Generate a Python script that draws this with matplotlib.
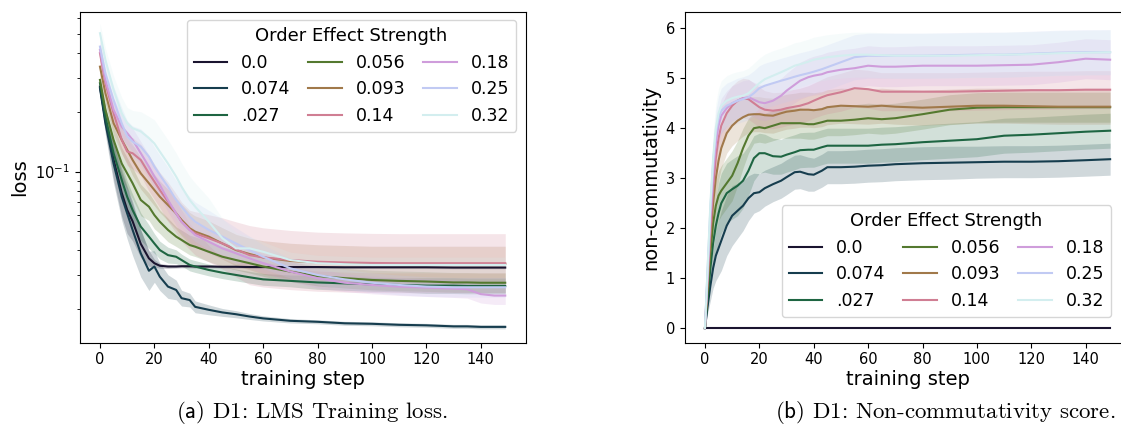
import numpy as np
import matplotlib
matplotlib.use("Agg")
import matplotlib.pyplot as plt

plt.rcParams["mathtext.fontset"] = "cm"

# ---------------- data ----------------
labels = ["0.0", "0.074", ".027", "0.056", "0.093", "0.14", "0.18", "0.25", "0.32"]
legend_title = "Order Effect Strength"

steps_loss = [0, 2, 5, 8, 10, 12, 15, 18, 20, 22, 25, 28, 30, 33, 35, 40, 45, 50, 55, 60,
              70, 80, 90, 100, 110, 120, 130, 135, 140, 145, 149]

loss_00 = [0.270, 0.183, 0.115, 0.078, 0.064, 0.056, 0.043, 0.0363, 0.0343, 0.0333, 0.0330, 0.0330, 0.0331, 0.0331, 0.0330, 0.0330, 0.0329, 0.0329, 0.0328, 0.0328,
           0.0328, 0.0328, 0.0327, 0.0327, 0.0327, 0.0327, 0.0326, 0.0326, 0.0326, 0.0326, 0.0326]
loss_074 = [0.265, 0.176, 0.110, 0.0746, 0.0614, 0.0506, 0.0385, 0.0314, 0.0330, 0.0293, 0.0261, 0.0251, 0.0228, 0.0223, 0.0206, 0.0199, 0.0193, 0.0189, 0.0184, 0.0180,
            0.0175, 0.0173, 0.0170, 0.0169, 0.0167, 0.0166, 0.0164, 0.0164, 0.0163, 0.0163, 0.0163]
loss_027 = [0.281, 0.190, 0.124, 0.0907, 0.0746, 0.0638, 0.0526, 0.0468, 0.0432, 0.0400, 0.0377, 0.0370, 0.0356, 0.0336, 0.0330, 0.0317, 0.0307, 0.0299, 0.0291, 0.0284,
            0.0279, 0.0274, 0.0271, 0.0268, 0.0266, 0.0264, 0.0264, 0.0263, 0.0263, 0.0263, 0.0263]
loss_056 = [0.292, 0.206, 0.145, 0.110, 0.098, 0.0873, 0.0718, 0.0664, 0.0602, 0.0557, 0.0506, 0.0468, 0.0450, 0.0424, 0.0416, 0.0392, 0.0370, 0.0356, 0.0343, 0.0330,
            0.0311, 0.0295, 0.0288, 0.0282, 0.0279, 0.0277, 0.0274, 0.0274, 0.0273, 0.0273, 0.0273]
loss_093 = [0.341, 0.250, 0.176, 0.145, 0.129, 0.1146, 0.098, 0.0873, 0.0807, 0.0746, 0.0677, 0.0614, 0.0569, 0.0516, 0.0496, 0.0468, 0.0432, 0.0400, 0.0382, 0.0367,
            0.0352, 0.0346, 0.0343, 0.0340, 0.0340, 0.0340, 0.0340, 0.0340, 0.0340, 0.0340, 0.0340]
loss_14 = [0.399, 0.281, 0.198, 0.145, 0.1264, 0.124, 0.1146, 0.098, 0.0890, 0.0807, 0.0704, 0.0614, 0.0557, 0.0506, 0.0486, 0.0459, 0.0432, 0.0403, 0.0377, 0.0367,
           0.0356, 0.0349, 0.0346, 0.0344, 0.0343, 0.0343, 0.0343, 0.0343, 0.0343, 0.0343, 0.0343]
loss_18 = [0.415, 0.292, 0.206, 0.169, 0.157, 0.145, 0.124, 0.106, 0.0944, 0.0856, 0.0718, 0.0614, 0.0557, 0.0506, 0.0477, 0.0441, 0.0408, 0.0385, 0.0363, 0.0343,
           0.0311, 0.0288, 0.0273, 0.0266, 0.0261, 0.0258, 0.0255, 0.0253, 0.0239, 0.0235, 0.0235]
loss_25 = [0.431, 0.315, 0.231, 0.176, 0.151, 0.142, 0.134, 0.119, 0.106, 0.0962, 0.0839, 0.0718, 0.0664, 0.0591, 0.0557, 0.0506, 0.0468, 0.0432, 0.0400, 0.0370,
           0.0323, 0.0299, 0.0284, 0.0273, 0.0266, 0.0261, 0.0259, 0.0259, 0.0259, 0.0259, 0.0259]
loss_32 = [0.504, 0.369, 0.260, 0.198, 0.176, 0.166, 0.160, 0.148, 0.139, 0.1264, 0.110, 0.0944, 0.0839, 0.0718, 0.0664, 0.0557, 0.0459, 0.0408, 0.0408, 0.0392,
           0.0356, 0.0343, 0.0339, 0.0336, 0.0336, 0.0336, 0.0336, 0.0336, 0.0336, 0.0336, 0.0336]

# band half-widths for the loss curves (log10 units)
band_loss_00 = [0.03, 0.06, 0.10, 0.12, 0.12, 0.10, 0.07, 0.04, 0.02, 0.012, 0.01, 0.008, 0.008, 0.008, 0.008, 0.007, 0.007, 0.007, 0.006, 0.006,
                0.006, 0.006, 0.006, 0.006, 0.006, 0.006, 0.006, 0.006, 0.006, 0.006, 0.006]
band_loss_074 = [0.03, 0.06, 0.10, 0.12, 0.13, 0.13, 0.12, 0.10, 0.08, 0.07, 0.06, 0.05, 0.04, 0.035, 0.03, 0.025, 0.02, 0.018, 0.015, 0.013,
                 0.011, 0.01, 0.01, 0.01, 0.01, 0.01, 0.01, 0.01, 0.01, 0.01, 0.01]
band_loss_027 = [0.03, 0.05, 0.07, 0.08, 0.08, 0.08, 0.07, 0.06, 0.05, 0.045, 0.04, 0.035, 0.03, 0.03, 0.03, 0.03, 0.03, 0.03, 0.03, 0.03,
                 0.03, 0.035, 0.035, 0.035, 0.035, 0.04, 0.04, 0.04, 0.04, 0.04, 0.04]
band_loss_056 = [0.03, 0.05, 0.07, 0.08, 0.08, 0.08, 0.08, 0.07, 0.07, 0.06, 0.06, 0.05, 0.05, 0.05, 0.05, 0.05, 0.05, 0.05, 0.05, 0.05,
                 0.05, 0.05, 0.05, 0.05, 0.05, 0.05, 0.05, 0.05, 0.05, 0.05, 0.05]
band_loss_093 = [0.04, 0.05, 0.06, 0.07, 0.07, 0.08, 0.08, 0.08, 0.08, 0.08, 0.08, 0.08, 0.08, 0.08, 0.08, 0.08, 0.08, 0.08, 0.08, 0.085,
                 0.09, 0.09, 0.09, 0.09, 0.09, 0.09, 0.09, 0.09, 0.09, 0.09, 0.09]
band_loss_14 = [0.04, 0.05, 0.06, 0.07, 0.07, 0.08, 0.08, 0.09, 0.09, 0.09, 0.10, 0.10, 0.10, 0.10, 0.11, 0.12, 0.13, 0.14, 0.15, 0.15,
                0.15, 0.15, 0.15, 0.15, 0.15, 0.15, 0.15, 0.15, 0.15, 0.15, 0.15]
band_loss_18 = [0.04, 0.05, 0.06, 0.06, 0.06, 0.06, 0.06, 0.06, 0.06, 0.06, 0.06, 0.06, 0.06, 0.06, 0.06, 0.06, 0.05, 0.05, 0.05, 0.05,
                0.05, 0.05, 0.045, 0.045, 0.045, 0.045, 0.045, 0.045, 0.045, 0.045, 0.045]
band_loss_25 = [0.05, 0.06, 0.07, 0.08, 0.08, 0.08, 0.09, 0.10, 0.10, 0.10, 0.10, 0.10, 0.10, 0.10, 0.10, 0.10, 0.09, 0.08, 0.07, 0.06,
                0.05, 0.05, 0.05, 0.05, 0.05, 0.05, 0.05, 0.05, 0.05, 0.05, 0.05]
band_loss_32 = [0.05, 0.06, 0.07, 0.08, 0.08, 0.09, 0.10, 0.11, 0.12, 0.12, 0.12, 0.12, 0.12, 0.12, 0.12, 0.12, 0.10, 0.08, 0.06, 0.05,
                0.04, 0.04, 0.04, 0.04, 0.04, 0.04, 0.04, 0.04, 0.04, 0.04, 0.04]

steps_nc = [0, 1, 2, 3, 4, 5, 6, 8, 10, 12, 14, 16, 18, 20, 22, 25, 28, 30, 33, 35,
            38, 40, 43, 45, 50, 55, 60, 65, 70, 80, 90, 100, 110, 120, 130, 140, 149]

nc_00 = [0.0] * 37
nc_074 = [0, 0.45, 0.85, 1.2, 1.45, 1.6, 1.75, 2.05, 2.25, 2.35, 2.45, 2.6, 2.7, 2.72, 2.8, 2.88, 2.95, 3.02, 3.12, 3.13,
          3.08, 3.07, 3.15, 3.22, 3.22, 3.23, 3.25, 3.26, 3.28, 3.30, 3.31, 3.32, 3.33, 3.33, 3.34, 3.36, 3.38]
nc_027 = [0, 0.6, 1.2, 1.7, 2.05, 2.3, 2.5, 2.7, 2.78, 2.85, 2.95, 3.15, 3.4, 3.5, 3.5, 3.44, 3.43, 3.47, 3.52, 3.56,
          3.57, 3.57, 3.62, 3.65, 3.65, 3.65, 3.65, 3.67, 3.68, 3.72, 3.75, 3.78, 3.85, 3.87, 3.9, 3.93, 3.95]
nc_056 = [0, 0.8, 1.5, 2.1, 2.45, 2.65, 2.75, 2.9, 3.05, 3.3, 3.6, 3.85, 4.0, 4.02, 4.0, 4.05, 4.1, 4.1, 4.1, 4.1,
          4.08, 4.08, 4.12, 4.15, 4.15, 4.17, 4.2, 4.18, 4.2, 4.28, 4.37, 4.41, 4.42, 4.42, 4.42, 4.42, 4.42]
nc_093 = [0, 0.9, 1.8, 2.5, 3.0, 3.35, 3.6, 3.9, 4.05, 4.15, 4.22, 4.27, 4.28, 4.28, 4.26, 4.25, 4.3, 4.33, 4.35, 4.37,
          4.37, 4.36, 4.38, 4.42, 4.45, 4.44, 4.43, 4.45, 4.43, 4.41, 4.43, 4.45, 4.45, 4.44, 4.43, 4.43, 4.43]
nc_14 = [0, 1.0, 2.0, 2.8, 3.4, 3.8, 4.05, 4.3, 4.45, 4.55, 4.6, 4.58, 4.5, 4.42, 4.37, 4.35, 4.37, 4.4, 4.43, 4.45,
         4.5, 4.55, 4.62, 4.66, 4.72, 4.8, 4.78, 4.73, 4.73, 4.73, 4.73, 4.74, 4.75, 4.76, 4.76, 4.77, 4.77]
nc_18 = [0, 1.1, 2.2, 3.1, 3.7, 4.05, 4.25, 4.4, 4.5, 4.55, 4.6, 4.62, 4.57, 4.52, 4.5, 4.55, 4.65, 4.75, 4.87, 4.95,
         5.02, 5.05, 5.08, 5.12, 5.17, 5.2, 5.25, 5.23, 5.23, 5.25, 5.25, 5.25, 5.26, 5.27, 5.32, 5.39, 5.37]
nc_25 = [0, 1.2, 2.4, 3.3, 3.9, 4.2, 4.35, 4.45, 4.5, 4.55, 4.58, 4.62, 4.7, 4.8, 4.85, 4.9, 4.95, 4.98, 5.03, 5.06,
         5.1, 5.13, 5.18, 5.22, 5.32, 5.42, 5.45, 5.45, 5.45, 5.45, 5.46, 5.47, 5.47, 5.49, 5.51, 5.52, 5.52]
nc_32 = [0, 1.25, 2.5, 3.4, 4.0, 4.3, 4.45, 4.55, 4.6, 4.63, 4.65, 4.7, 4.8, 4.9, 4.98, 5.05, 5.12, 5.17, 5.25, 5.28,
         5.33, 5.37, 5.4, 5.42, 5.45, 5.47, 5.47, 5.46, 5.45, 5.45, 5.45, 5.46, 5.47, 5.48, 5.5, 5.51, 5.52]

# band half-widths for the non-commutativity curves
band_nc_00 = [0.0] * 37
band_nc_074 = [0, 0.15, 0.3, 0.4, 0.5, 0.55, 0.6, 0.6, 0.6, 0.55, 0.5, 0.45, 0.4, 0.37, 0.36, 0.35, 0.35, 0.35, 0.34, 0.34,
               0.34, 0.33, 0.33, 0.33, 0.33, 0.33, 0.33, 0.33, 0.33, 0.33, 0.33, 0.32, 0.32, 0.32, 0.32, 0.32, 0.32]
band_nc_027 = [0, 0.15, 0.3, 0.45, 0.55, 0.6, 0.6, 0.6, 0.6, 0.6, 0.55, 0.5, 0.45, 0.4, 0.38, 0.36, 0.35, 0.35, 0.35, 0.35,
               0.35, 0.35, 0.35, 0.35, 0.35, 0.35, 0.35, 0.35, 0.35, 0.35, 0.35, 0.35, 0.35, 0.35, 0.35, 0.35, 0.35]
band_nc_056 = [0, 0.15, 0.3, 0.4, 0.5, 0.5, 0.5, 0.5, 0.5, 0.45, 0.4, 0.35, 0.3, 0.3, 0.3, 0.3, 0.3, 0.3, 0.3, 0.3,
               0.3, 0.3, 0.3, 0.3, 0.3, 0.3, 0.3, 0.3, 0.3, 0.3, 0.3, 0.3, 0.3, 0.3, 0.3, 0.3, 0.3]
band_nc_093 = [0, 0.15, 0.3, 0.4, 0.4, 0.4, 0.4, 0.4, 0.4, 0.4, 0.38, 0.36, 0.35, 0.35, 0.35, 0.35, 0.35, 0.35, 0.35, 0.35,
               0.35, 0.35, 0.35, 0.35, 0.35, 0.35, 0.35, 0.35, 0.35, 0.35, 0.35, 0.35, 0.35, 0.35, 0.35, 0.35, 0.35]
band_nc_14 = [0, 0.15, 0.3, 0.4, 0.4, 0.4, 0.4, 0.4, 0.4, 0.4, 0.4, 0.4, 0.4, 0.4, 0.38, 0.36, 0.35, 0.35, 0.35, 0.35,
              0.35, 0.35, 0.36, 0.37, 0.38, 0.38, 0.38, 0.38, 0.38, 0.38, 0.38, 0.38, 0.38, 0.38, 0.38, 0.38, 0.38]
band_nc_18 = [0, 0.15, 0.3, 0.35, 0.35, 0.35, 0.35, 0.35, 0.35, 0.35, 0.35, 0.35, 0.35, 0.35, 0.35, 0.35, 0.35, 0.35, 0.36, 0.37,
              0.38, 0.39, 0.4, 0.4, 0.4, 0.4, 0.4, 0.4, 0.4, 0.4, 0.4, 0.4, 0.4, 0.4, 0.4, 0.4, 0.4]
band_nc_25 = [0, 0.2, 0.35, 0.45, 0.45, 0.45, 0.45, 0.45, 0.45, 0.45, 0.45, 0.45, 0.45, 0.45, 0.45, 0.45, 0.45, 0.45, 0.45, 0.45,
              0.45, 0.45, 0.45, 0.45, 0.45, 0.45, 0.45, 0.45, 0.45, 0.45, 0.45, 0.45, 0.45, 0.45, 0.45, 0.45, 0.45]
band_nc_32 = [0, 0.2, 0.35, 0.5, 0.5, 0.5, 0.5, 0.5, 0.5, 0.5, 0.5, 0.5, 0.5, 0.5, 0.5, 0.5, 0.48, 0.47, 0.46, 0.45,
              0.45, 0.45, 0.45, 0.45, 0.45, 0.45, 0.45, 0.45, 0.45, 0.45, 0.45, 0.45, 0.45, 0.45, 0.45, 0.45, 0.45]

loss_series = [loss_00, loss_074, loss_027, loss_056, loss_093, loss_14, loss_18, loss_25, loss_32]
loss_bands = [band_loss_00, band_loss_074, band_loss_027, band_loss_056, band_loss_093,
              band_loss_14, band_loss_18, band_loss_25, band_loss_32]
nc_series = [nc_00, nc_074, nc_027, nc_056, nc_093, nc_14, nc_18, nc_25, nc_32]
nc_bands = [band_nc_00, band_nc_074, band_nc_027, band_nc_056, band_nc_093,
            band_nc_14, band_nc_18, band_nc_25, band_nc_32]

caption_tags = ["(a)", "(b)"]
captions = ["D1: LMS Training loss.", "D1: Non-commutativity score."]

# ---------------- figure ----------------
W, H = 1121, 432
fig = plt.figure(figsize=(W / 100, H / 100), dpi=100)
colors = plt.get_cmap("cubehelix")(np.linspace(0, 1, len(labels) + 2)[1:-1])

axL = fig.add_axes([79.7 / W, 1 - 342.7 / H, (525.5 - 79.7) / W, (342.7 - 11.7) / H])
axR = fig.add_axes([684.7 / W, 1 - 342.7 / H, (1130.4 - 684.7) / W, (342.7 - 11.7) / H])

leg_kw = dict(title=legend_title, ncol=3, fontsize=12.5, title_fontsize=13,
              bbox_transform=fig.transFigure, borderaxespad=0,
              columnspacing=1.0, handlelength=1.95)

xs_l = np.array(steps_loss)
for lab, m, b, c in zip(labels, loss_series, loss_bands, colors):
    m = np.array(m)
    f = 10 ** np.array(b)
    axL.plot(xs_l, m, color=c, lw=1.5, label=lab)
    axL.fill_between(xs_l, m / f, m * f, color=c, alpha=0.2, lw=0)

axL.set_yscale("log")
axL.set_ylim(0.01355, 0.648)
axL.set_xlim(-7.45, 156.45)
axL.set_xticks(range(0, 141, 20))
axL.tick_params(labelsize=10.5)
axL.set_xlabel("training step", fontsize=14, labelpad=2)
axL.set_ylabel("loss", fontsize=14)
axL.legend(loc="upper right", bbox_to_anchor=(516 / W, 1 - 20 / H), **leg_kw)

xs_n = np.array(steps_nc)
for lab, m, b, c in zip(labels, nc_series, nc_bands, colors):
    m = np.array(m)
    b = np.array(b)
    axR.plot(xs_n, m, color=c, lw=1.5, label=lab)
    axR.fill_between(xs_n, m - b, m + b, color=c, alpha=0.2, lw=0)

axR.set_ylim(-0.29, 6.33)
axR.set_xlim(-7.45, 156.45)
axR.set_xticks(range(0, 141, 20))
axR.set_yticks(range(0, 7))
axR.tick_params(labelsize=10.5)
axR.set_xlabel("training step", fontsize=14, labelpad=2)
axR.set_ylabel("non-commutativity", fontsize=14)
axR.legend(loc="lower right", bbox_to_anchor=(1111 / W, 1 - 317 / H), **leg_kw)

for tag, cap, cx in zip(caption_tags, captions, [312, 945]):
    fig.text(cx / W, 1 - 413 / H, r"$\mathsf{" + tag + "}$ " + cap,
             ha="center", va="center", fontsize=16.5, family="cmr10")

fig.savefig("out.png", dpi=100)
